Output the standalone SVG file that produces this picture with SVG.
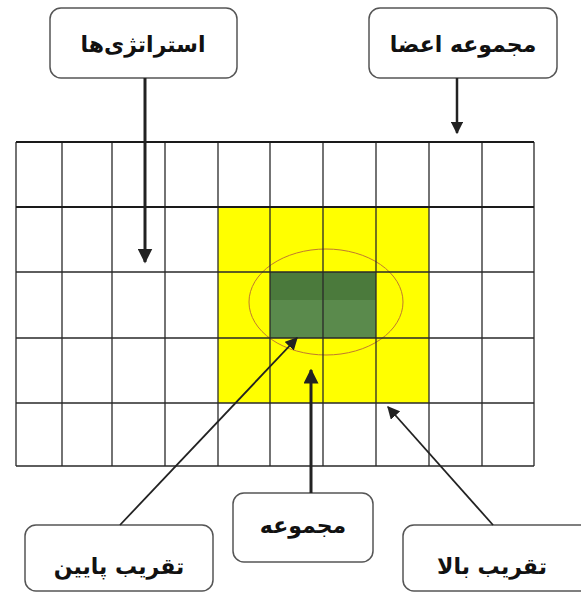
<svg xmlns="http://www.w3.org/2000/svg" width="581" height="593" viewBox="0 0 581 593">
<defs>
<style>
.box{fill:#fff;stroke:#555;stroke-width:1.5}
.lbl{font-family:"DejaVu Sans","Noto Sans",sans-serif;font-weight:bold;font-size:22px;fill:#111;text-anchor:middle}
.g{stroke:#2a2a2a;stroke-width:1.3;fill:none}
.gt{stroke:#1a1a1a;stroke-width:2;fill:none}
.con{stroke:#222;fill:none}
</style>
<marker id="ah" viewBox="0 0 10 10" refX="9" refY="5" markerWidth="5" markerHeight="5" orient="auto" markerUnits="strokeWidth">
<path d="M0,0 L10,5 L0,10 z" fill="#222"/>
</marker>
<marker id="ah2" viewBox="0 0 10 10" refX="9" refY="5" markerWidth="7" markerHeight="7" orient="auto" markerUnits="strokeWidth">
<path d="M0,0 L10,5 L0,10 z" fill="#222"/>
</marker>
</defs>
<rect width="581" height="593" fill="#fff"/>
<g id="grid">
<rect x="218" y="207" width="211" height="196" fill="#ffff00"/>
<rect x="270" y="272" width="106" height="66" fill="#5a8a4c"/>
<rect x="270" y="272" width="106" height="28" fill="#4b7a3c"/>
<ellipse cx="326" cy="302" rx="77" ry="53" fill="none" stroke="#c07a2e" stroke-width="1"/>
<path class="g" d="M16,272H534M16,338H534M16,403H534M16,466H534"/>
<path class="g" d="M16,142V466M62,142V466M112,142V466M165,142V466M218,142V466M270,142V466M323,142V466M376,142V466M429,142V466M482,142V466M534,142V466"/>
<path class="gt" d="M16,142H534M16,207H534"/>
</g>
<g id="node-strategies">
<rect class="box" x="50" y="8" width="187" height="70" rx="11"/>
<text class="lbl" x="143" y="52">استراتژی‌ها</text>
</g>
<g id="node-members">
<rect class="box" x="369" y="8" width="188" height="70" rx="11"/>
<text class="lbl" x="463" y="52">مجموعه اعضا</text>
</g>
<g id="node-lower">
<rect class="box" x="25" y="525" width="188" height="66" rx="11"/>
<text class="lbl" x="119" y="574">تقریب پایین</text>
</g>
<g id="node-set">
<rect class="box" x="233" y="493" width="140" height="69" rx="11"/>
<text class="lbl" x="303" y="533">مجموعه</text>
</g>
<g id="node-upper">
<rect class="box" x="403" y="525" width="190" height="66" rx="11"/>
<text class="lbl" x="492" y="574">تقریب بالا</text>
</g>
<g id="connectors">
<line class="con" x1="145" y1="78" x2="145" y2="262" stroke-width="3" marker-end="url(#ah)"/>
<line class="con" x1="457" y1="78" x2="457" y2="133" stroke-width="2.5" marker-end="url(#ah)"/>
<line class="con" x1="120" y1="525" x2="297" y2="338" stroke-width="1.8" marker-end="url(#ah2)"/>
<line class="con" x1="311" y1="493" x2="311" y2="370" stroke-width="3" marker-end="url(#ah)"/>
<line class="con" x1="493" y1="525" x2="388" y2="407" stroke-width="1.8" marker-end="url(#ah2)"/>
</g>
</svg>
